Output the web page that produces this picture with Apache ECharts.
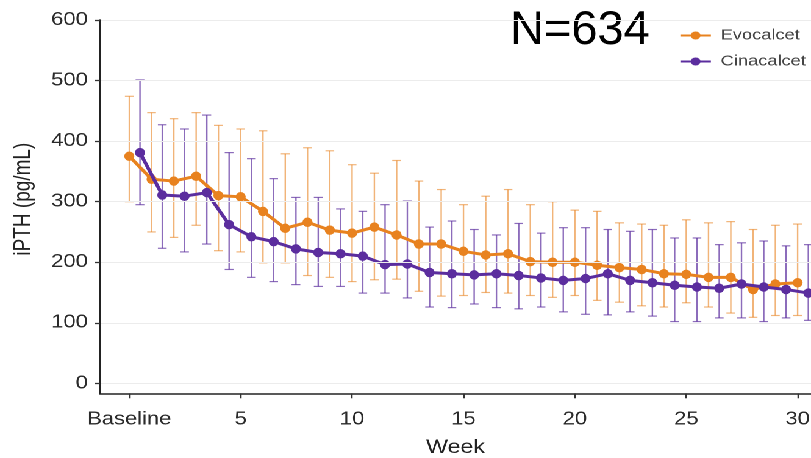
<!DOCTYPE html>
<html>
<head>
<meta charset="utf-8">
<script src="https://cdn.jsdelivr.net/npm/echarts@6/dist/echarts.min.js"></script>
<style>
  html, body { margin: 0; padding: 0; background: #fff; overflow: hidden; }
  /* the plot is laid out narrower and widened horizontally as a whole */
  #chart { width: 665px; height: 458px; transform: scaleX(1.21955); transform-origin: 0 0; background: #fff; }
</style>
</head>
<body>
<div id="chart"></div>
<script>
// Weeks of treatment (0 = baseline)
const weeks = [0, 1, 2, 3, 4, 5, 6, 7, 8, 9, 10, 11, 12, 13, 14, 15, 16, 17, 18, 19, 20,
               21, 22, 23, 24, 25, 26, 27, 28, 29, 30];

// Evocalcet: iPTH centre value and whisker ends (pg/mL)
const evoMean = [375, 337, 334, 342, 310, 308, 284, 256, 266, 253, 248, 258, 245, 230, 230, 218,
                 212, 214, 201, 200, 200, 195, 191, 188, 181, 180, 175, 175, 155, 164, 166];
const evoHi   = [474, 447, 437, 447, 426, 420, 417, 379, 389, 384, 361, 347, 368, 334, 320, 295,
                 309, 320, 295, 300, 286, 284, 265, 263, 261, 270, 265, 267, 254, 261, 263];
const evoLo   = [300, 250, 241, 261, 219, 217, 199, 199, 178, 175, 168, 171, 172, 152, 144, 145,
                 150, 149, 145, 142, 145, 137, 134, 128, 126, 133, 126, 116, 109, 112, 112];

// Cinacalcet: iPTH centre value and whisker ends (pg/mL)
const cinaMean = [381, 311, 309, 315, 262, 242, 234, 222, 216, 214, 210, 196, 197, 183, 181, 179,
                  181, 178, 174, 170, 173, 181, 170, 166, 162, 159, 157, 164, 159, 155, 149];
const cinaHi   = [501, 427, 420, 443, 381, 371, 338, 307, 307, 288, 284, 295, 301, 258, 268, 254,
                  245, 264, 248, 257, 257, 254, 251, 254, 240, 240, 229, 232, 235, 227, 229];
const cinaLo   = [295, 223, 217, 230, 188, 175, 168, 163, 160, 160, 149, 149, 141, 126, 125, 131,
                  125, 123, 126, 118, 114, 113, 118, 111, 102, 102, 108, 108, 102, 108, 104];

// Axis ticks
const xTicks = [0, 5, 10, 15, 20, 25, 30];
const yTicks = [0, 100, 200, 300, 400, 500, 600];

// Cinacalcet points are dodged to the right of each week
const CINA_DODGE = 0.48;

const STRETCH = 1.21955;
const ORANGE = '#e8821f';
const PURPLE = '#5b2d9e';
const FONT = '"Liberation Sans", Arial, sans-serif';

const evoX = weeks.map(w => w);
const cinaX = weeks.map(w => w + CINA_DODGE);

function errorBars(name, xs, lo, hi, color, opacity) {
  return {
    name: name,
    type: 'custom',
    silent: true,
    z: 1,
    data: xs.map((x, i) => [x, lo[i], hi[i]]),
    encode: { x: 0, y: [1, 2] },
    renderItem: function (params, api) {
      const low = api.coord([api.value(0), api.value(1)]);
      const high = api.coord([api.value(0), api.value(2)]);
      const half = 3.6;
      const style = { stroke: color, lineWidth: 1.2, opacity: opacity };
      return {
        type: 'group',
        children: [
          { type: 'line', shape: { x1: low[0], y1: low[1], x2: high[0], y2: high[1] }, style: style },
          { type: 'line', shape: { x1: low[0] - half, y1: low[1], x2: low[0] + half, y2: low[1] }, style: style },
          { type: 'line', shape: { x1: high[0] - half, y1: high[1], x2: high[0] + half, y2: high[1] }, style: style }
        ]
      };
    }
  };
}

const chart = echarts.init(document.getElementById('chart'), null, { renderer: 'canvas', devicePixelRatio: 2 });

chart.setOption({
  animation: false,
  grid: { left: 82, right: 0, top: 20, bottom: 64.7, containLabel: false, outerBoundsMode: 'none' },
  xAxis: {
    type: 'value',
    z: 50,
    min: -1.315,
    max: 30.6,
    name: 'Week',
    nameLocation: 'middle',
    nameGap: 45,
    nameTextStyle: { fontFamily: FONT, fontSize: 19, color: '#222' },
    axisLine: { show: true, onZero: false, lineStyle: { color: '#222', width: 1.5 } },
    axisTick: { show: true, length: 5, customValues: xTicks, lineStyle: { color: '#333', width: 1.3 } },
    axisLabel: {
      customValues: xTicks,
      margin: 17,
      fontFamily: FONT,
      fontSize: 18,
      color: '#2a2a2a',
      formatter: v => (v === 0 ? 'Baseline' : String(v))
    },
    splitLine: { show: false }
  },
  yAxis: {
    type: 'value',
    z: 50,
    min: -16.5,
    max: 600,
    name: 'iPTH (pg/mL)',
    nameLocation: 'middle',
    nameRotate: 90,
    nameGap: 53,
    nameTextStyle: { fontFamily: FONT, fontSize: 19, color: '#222', padding: [0, 0, 0, 15] },
    axisLine: { show: true, onZero: false, lineStyle: { color: '#222', width: 1.5 } },
    axisTick: { show: true, length: 4, customValues: yTicks, lineStyle: { color: '#333', width: 1.3 } },
    axisLabel: { customValues: yTicks, margin: 10, fontFamily: FONT, fontSize: 18, color: '#2a2a2a' },
    splitLine: { show: true, lineStyle: { color: '#ececec', width: 1 } }
  },
  legend: {
    orient: 'vertical',
    left: 551.9,
    top: 23,
    itemWidth: 25,
    itemHeight: 10,
    itemGap: 11,
    data: ['Evocalcet', 'Cinacalcet'],
    textStyle: { fontFamily: FONT, fontSize: 15, color: '#444', padding: [0, 0, 0, 3] }
  },
  graphic: [{
    type: 'text',
    x: 418.2,
    y: 31,
    scaleX: 1 / STRETCH,
    style: {
      text: 'N=634',
      fontFamily: FONT,
      fontSize: 47,
      fill: '#000',
      align: 'left',
      verticalAlign: 'middle'
    }
  }],
  series: [
    errorBars('Evocalcet range', evoX, evoLo, evoHi, ORANGE, 0.6),
    errorBars('Cinacalcet range', cinaX, cinaLo, cinaHi, PURPLE, 0.7),
    {
      name: 'Evocalcet',
      type: 'line',
      z: 3,
      data: evoX.map((x, i) => [x, evoMean[i]]),
      symbol: 'circle',
      symbolSize: [8.2, 9.5],
      itemStyle: { color: ORANGE },
      lineStyle: { color: ORANGE, width: 3 }
    },
    {
      name: 'Cinacalcet',
      type: 'line',
      z: 4,
      data: cinaX.map((x, i) => [x, cinaMean[i]]),
      symbol: 'circle',
      symbolSize: [8.2, 9.5],
      itemStyle: { color: PURPLE },
      lineStyle: { color: PURPLE, width: 3 }
    }
  ]
});
</script>
</body>
</html>
